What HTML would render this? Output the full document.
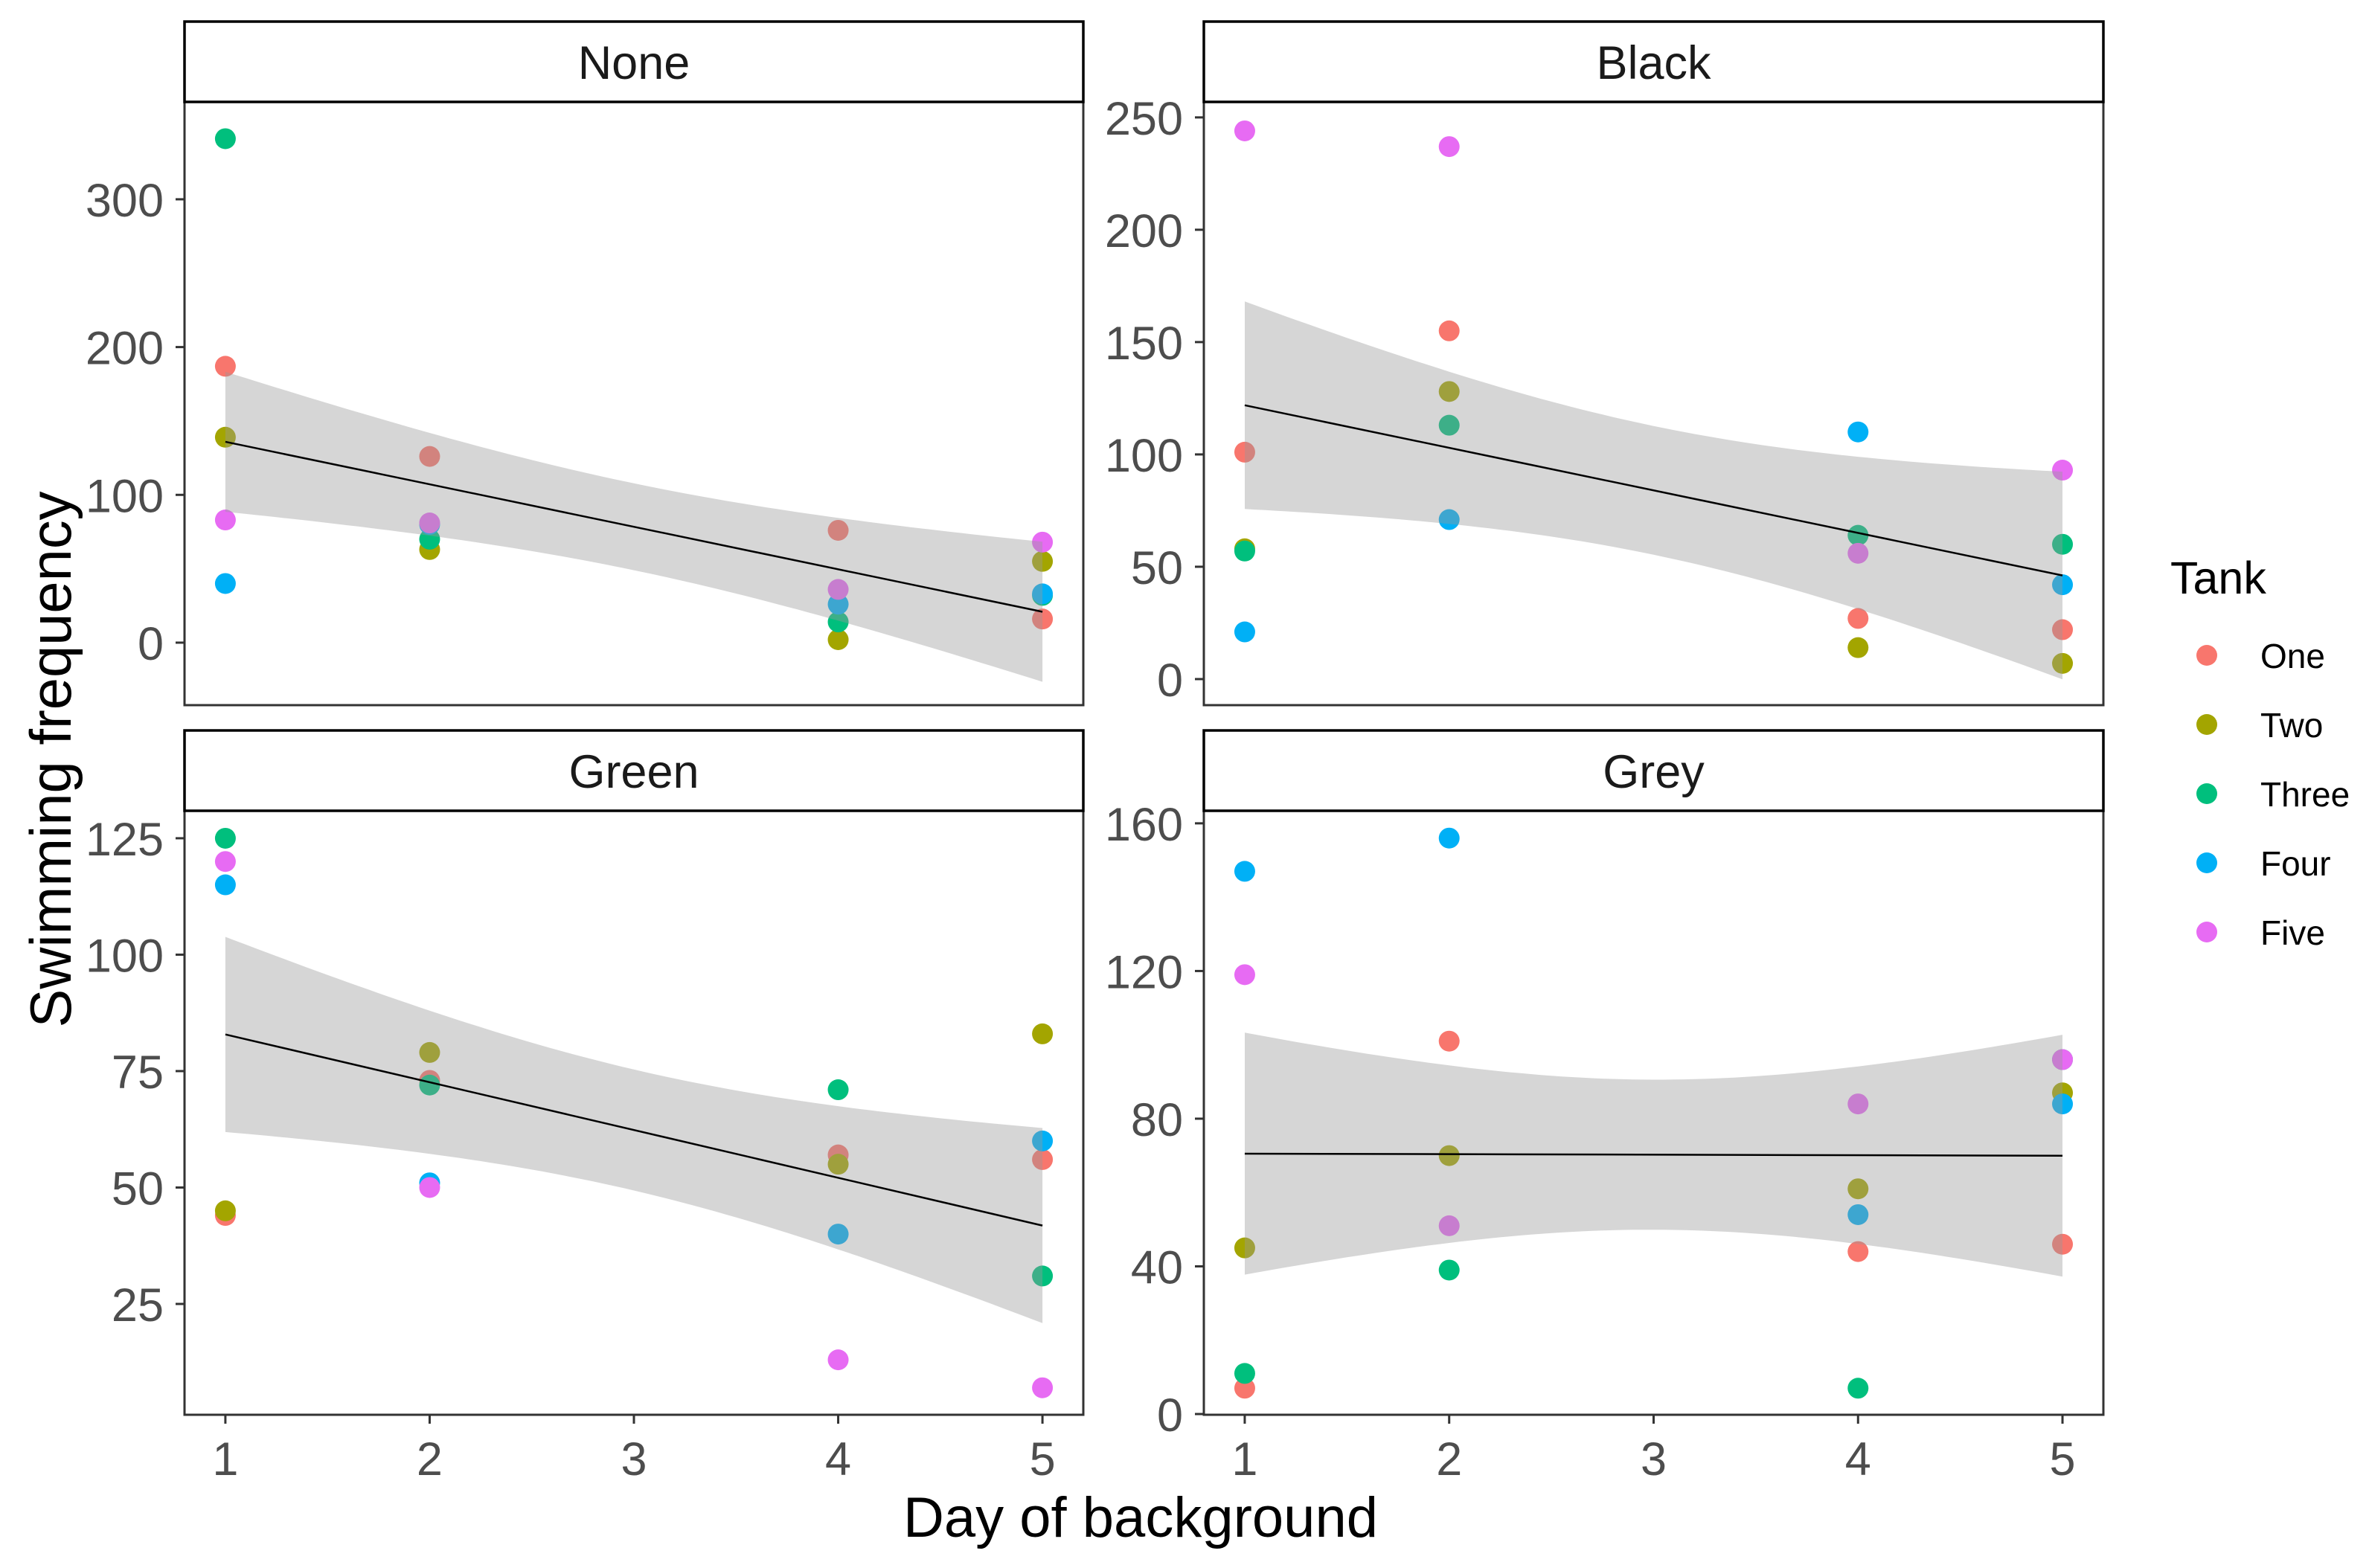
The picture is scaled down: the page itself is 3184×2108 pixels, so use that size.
<!DOCTYPE html>
<html><head><meta charset="utf-8"><style>
html,body{margin:0;padding:0;background:#fff}
svg{display:block;font-family:"Liberation Sans",Arial,sans-serif}
</style></head><body>
<svg id="chart" width="3184" height="2108" viewBox="0 0 3184 2108" xmlns="http://www.w3.org/2000/svg"></svg>
<script>
// ---- data ----
const tanks = ["One","Two","Three","Four","Five"];
const tankColors = ["#F8766D","#A3A500","#00BF7D","#00B0F6","#E76BF3"];
const days = [1,2,4,5];
const xTicks = [1,2,3,4,5];
const panelNames = ["None","Black","Green","Grey"];
// values[tank][dayIndex]
const noneValues = [[187,126,76,16],[139,63,2,55],[341,70,14,32],[40,80,26,33],[83,81,36,68]];
const blackValues = [[101,155,27,22],[58,128,14,7],[57,113,64,60],[21,71,110,42],[244,237,56,93]];
const greenValues = [[44,73,57,56],[45,79,55,83],[125,72,71,31],[115,51,40,60],[120,50,13,7]];
const greyValues = [[7,101,44,46],[45,70,61,87],[11,39,7,96],[147,156,54,84],[119,51,84,96]];
const noneTicks = [0,100,200,300];
const blackTicks = [0,50,100,150,200,250];
const greenTicks = [25,50,75,100,125];
const greyTicks = [0,40,80,120,160];

const svg = document.getElementById('chart');
const NS = "http://www.w3.org/2000/svg";
function mk(tag, attrs, parent){
  const e = document.createElementNS(NS, tag);
  for (const k in attrs) e.setAttribute(k, attrs[k]);
  (parent||svg).appendChild(e);
  return e;
}
const layout = [
  {L:248,R:1456,ST:29,SB:137,B:948,ymin:-42.3,ymax:365.9,vals:noneValues,ticks:noneTicks,xlab:false},
  {L:1618,R:2827,ST:29,SB:137,B:948,ymin:-11.6,ymax:256.9,vals:blackValues,ticks:blackTicks,xlab:false},
  {L:248,R:1456,ST:982,SB:1090,B:1902,ymin:1.2,ymax:130.9,vals:greenValues,ticks:greenTicks,xlab:true},
  {L:1618,R:2827,ST:982,SB:1090,B:1902,ymin:-0.2,ymax:163.4,vals:greyValues,ticks:greyTicks,xlab:true}
];
const T_CRIT = 2.101;
const defs = mk('defs',{});
layout.forEach((p,pi)=>{
  const name = panelNames[pi].toLowerCase();
  const g = mk('g',{});
  
  
  const xs = d => p.L + (d-0.8)/(4.4)*(p.R-p.L);
  const ys = v => p.B - (v-p.ymin)/(p.ymax-p.ymin)*(p.B-p.SB);
  const cp = mk('clipPath',{id:'clip'+pi},defs);
  mk('rect',{x:p.L,y:p.SB,width:p.R-p.L,height:p.B-p.SB},cp);
  const pts = [];
  p.vals.forEach((row,ti)=>{
    row.forEach((v,di)=>{
      pts.push([days[di],v]);
      const c = mk('circle',{cx:xs(days[di]),cy:ys(v),r:14,fill:tankColors[ti]},g);
      
      
    });
  });
  const n = pts.length;
  const mx = pts.reduce((a,q)=>a+q[0],0)/n, my = pts.reduce((a,q)=>a+q[1],0)/n;
  let sxx=0,sxy=0; pts.forEach(q=>{sxx+=(q[0]-mx)**2; sxy+=(q[0]-mx)*(q[1]-my);});
  const b = sxy/sxx, a = my - b*mx;
  let sse=0; pts.forEach(q=>{sse+=(q[1]-a-b*q[0])**2;});
  const s = Math.sqrt(sse/(n-2));
  const lo=[],hi=[];
  for(let i=0;i<=80;i++){
    const x = 1 + 4*i/80;
    const f = a+b*x, se = s*Math.sqrt(1/n+(x-mx)**2/sxx);
    hi.push(xs(x).toFixed(1)+','+ys(f+T_CRIT*se).toFixed(1));
    lo.push(xs(x).toFixed(1)+','+ys(f-T_CRIT*se).toFixed(1));
  }
  const rib = mk('polygon',{points:hi.concat(lo.reverse()).join(' '),fill:'#999999','fill-opacity':0.4,'clip-path':'url(#clip'+pi+')'},g);
  
  
  const ln = mk('line',{x1:xs(1),y1:ys(a+b),x2:xs(5),y2:ys(a+5*b),stroke:'#000','stroke-width':2.5,'clip-path':'url(#clip'+pi+')'},g);
  
  
  const br = mk('rect',{x:p.L,y:p.SB,width:p.R-p.L,height:p.B-p.SB,fill:'none',stroke:'#333','stroke-width':3},g);
  
  
  const st = mk('rect',{x:p.L,y:p.ST,width:p.R-p.L,height:p.SB-p.ST,fill:'#fff',stroke:'#000','stroke-width':3.5},g);
  
  
  const stt = mk('text',{x:(p.L+p.R)/2,y:(p.ST+p.SB)/2+23,'font-size':63,'text-anchor':'middle',fill:'#1A1A1A'},g);
  stt.textContent = panelNames[pi];
  
  
  p.ticks.forEach(t=>{
    const y = ys(t);
    const tk = mk('line',{x1:p.L-12,x2:p.L,y1:y,y2:y,stroke:'#333','stroke-width':3},g);
    
    
    const tl = mk('text',{x:p.L-28,y:y+23,'font-size':63,'text-anchor':'end',fill:'#4D4D4D'},g);
    tl.textContent = t;
    
    
  });
  if (p.xlab) xTicks.forEach(t=>{
    const x = xs(t);
    const tk = mk('line',{x1:x,x2:x,y1:p.B,y2:p.B+12,stroke:'#333','stroke-width':3},g);
    
    
    const tl = mk('text',{x:x,y:1983,'font-size':63,'text-anchor':'middle',fill:'#4D4D4D'},g);
    tl.textContent = t;
    
    
  });
});
const yt = mk('text',{x:0,y:0,'font-size':78,'text-anchor':'middle',fill:'#000',transform:'translate(95,1021) rotate(-90)',textLength:721,lengthAdjust:'spacingAndGlyphs'});
yt.textContent = 'Swimming frequency';


const xt = mk('text',{x:1533,y:2066,'font-size':76,'text-anchor':'middle',fill:'#000',textLength:638,lengthAdjust:'spacingAndGlyphs'});
xt.textContent = 'Day of background';


const lg = mk('g',{});


const lt = mk('text',{x:2917,y:798,'font-size':61,fill:'#000'},lg);
lt.textContent = 'Tank';


tanks.forEach((t,i)=>{
  const y = 881 + i*93;
  const c = mk('circle',{cx:2966,cy:y,r:14,fill:tankColors[i]},lg);
  
  
  const tx = mk('text',{x:3038,y:y+17,'font-size':46,fill:'#000'},lg);
  tx.textContent = t;
  
  
});
</script>
</body></html>
